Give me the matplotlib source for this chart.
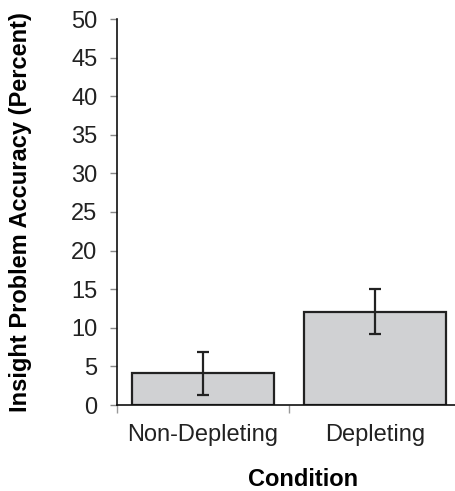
import numpy as np
import matplotlib.pyplot as plt

plt.rcParams['font.family'] = ['Liberation Sans', 'DejaVu Sans']

conditions = ['Non-Depleting', 'Depleting']
accuracy = [4.1, 12.1]
err = [2.8, 2.9]
yticks = np.arange(0, 51, 5)

W, H = 455, 491
fig = plt.figure(figsize=(W/100, H/100), dpi=100)
# axes box in pixels: y axis at x=117, zero at y=405, 50 at y=19
ax = fig.add_axes([117/W, (H-405)/H, 344/W, 386/H])

x = np.arange(len(conditions)) + 0.5
ax.bar(x, accuracy, width=0.82, color='#d0d1d3', edgecolor='#222222', linewidth=1.6, zorder=2)
ax.errorbar(x, accuracy, yerr=err, fmt='none', ecolor='#222222', elinewidth=1.6,
            capsize=4, capthick=1.6, zorder=3)

ax.set_xlim(0, 2)
ax.set_ylim(0, 50)
ax.set_yticks(yticks)
ax.set_xticks(x)
ax.set_xticklabels(conditions)
ax.set_xticks([0, 1, 2], minor=True)

for s in ['top', 'right']:
    ax.spines[s].set_visible(False)
ax.spines['left'].set_color('#111111')
ax.spines['bottom'].set_color('#111111')
ax.spines['left'].set_linewidth(1.2)
ax.spines['bottom'].set_linewidth(1.2)

ax.tick_params(axis='y', direction='out', length=5, width=1, color='#888888',
               labelsize=17, pad=9, labelcolor='#222222')
ax.tick_params(axis='x', which='major', length=0, labelsize=17, pad=14, labelcolor='#222222')
ax.tick_params(axis='x', which='minor', direction='out', length=6, width=1, color='#999999')

ax.set_ylabel('Insight Problem Accuracy (Percent)', fontsize=17, fontweight='bold', va='center')
ax.yaxis.set_label_coords((21-117)/344, (405-212)/386)
ax.set_xlabel('Condition', fontsize=17, fontweight='bold', va='center')
ax.xaxis.set_label_coords((303-117)/344, (405-480)/386)

fig.savefig('out.png', dpi=100)
